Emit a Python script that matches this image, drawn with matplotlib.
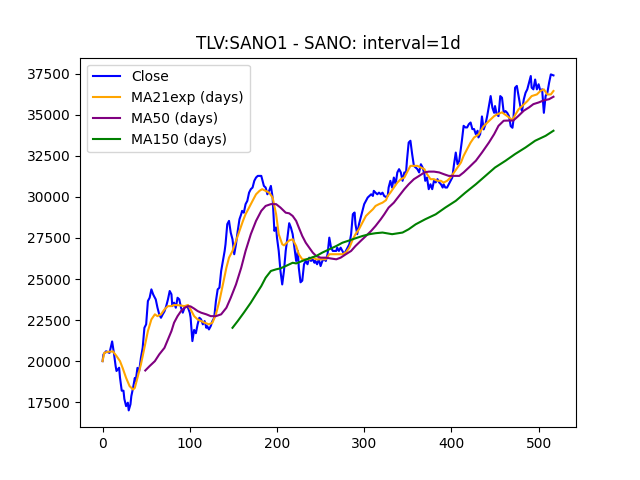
import matplotlib
matplotlib.use("Agg")
import matplotlib.pyplot as plt
from matplotlib.ticker import MultipleLocator

# Close price (day index, value)
close_x = [0, 1, 4, 8, 11, 13, 15, 16, 19, 20, 22, 24, 25, 27, 29, 30, 32, 33, 35, 37,
           38, 40, 42, 44, 46, 48, 50, 52, 54, 56, 58, 59, 61, 63, 65, 67, 69, 71, 73, 75,
           77, 79, 80, 82, 84, 86, 88, 90, 92, 94, 96, 98, 100, 101, 103, 105, 107, 109, 111, 113,
           115, 117, 119, 120, 122, 124, 126, 128, 130, 132, 134, 136, 138, 140, 141, 143, 145, 147, 149, 151,
           153, 155, 157, 159, 160, 162, 164, 166, 168, 170, 172, 174, 176, 178, 180, 182, 183, 185, 187, 189,
           191, 193, 195, 197, 199, 200, 202, 204, 206, 208, 210, 212, 214, 216, 218, 220, 222, 224, 225, 227,
           229, 231, 233, 235, 237, 239, 241, 243, 244, 246, 248, 250, 252, 254, 256, 258, 260, 262, 264, 268,
           269, 271, 273, 275, 277, 279, 281, 283, 285, 287, 289, 290, 292, 294, 296, 298, 300, 302, 304, 306,
           308, 310, 311, 313, 315, 317, 319, 321, 323, 325, 327, 328, 330, 332, 334, 336, 338, 340, 342, 344,
           346, 348, 349, 351, 353, 355, 357, 359, 361, 363, 365, 367, 369, 370, 372, 374, 376, 378, 380, 382,
           384, 386, 388, 390, 391, 393, 395, 397, 399, 401, 403, 405, 407, 409, 411, 412, 414, 416, 418, 420,
           422, 424, 426, 428, 430, 431, 433, 435, 437, 439, 441, 443, 445, 447, 449, 450, 452, 454, 456, 458,
           460, 462, 464, 466, 468, 470, 471, 473, 475, 477, 479, 481, 483, 485, 487, 489, 491, 492, 494, 496,
           498, 500, 502, 504, 506, 508, 510, 512, 514, 517]
close_y = [20000, 20400, 20600, 20500, 21200, 20500, 19700, 19400, 19600, 19000, 18200, 18200, 17700, 17260, 17470, 17000, 17370, 17870, 18370, 18980,
           18780, 19590, 19390, 20200, 20810, 22030, 22240, 23660, 23860, 24370, 24070, 23960, 23760, 23250, 22850, 22640, 22850, 23030, 23350, 23760,
           24270, 24070, 23350, 23560, 23250, 23860, 23760, 23250, 22950, 23250, 23350, 23250, 22950, 22640, 21220, 21900, 21700, 22240, 22640, 22540,
           22240, 22440, 22030, 22130, 21930, 22130, 22440, 22640, 23660, 24370, 24470, 25490, 26100, 26710, 27120, 28340, 28540, 27820, 27420, 26510,
           27120, 27930, 28640, 28950, 29150, 29040, 29560, 29760, 30260, 30470, 30570, 30980, 31180, 31280, 31280, 31280, 31080, 30670, 30570, 30160,
           30370, 30670, 29960, 27930, 28140, 27520, 26710, 25490, 24670, 25490, 26710, 27520, 28400, 28130, 27730, 26910, 26100, 26710, 25690, 24800,
           24900, 25900, 26100, 25900, 26300, 26100, 26200, 25990, 26100, 25900, 26200, 25790, 26100, 26200, 26100, 26510, 27520, 26910, 26710, 26710,
           26910, 26710, 26910, 26710, 26510, 26710, 26910, 27120, 27730, 28950, 29050, 28330, 27730, 28330, 28740, 29150, 29560, 29760, 29960, 30060,
           30160, 30060, 30370, 30260, 30160, 30260, 30160, 30260, 30050, 30000, 30060, 30570, 30980, 30570, 31180, 30770, 31490, 31690, 31490, 30980,
           31490, 31490, 32200, 33310, 33420, 32600, 31890, 31790, 31690, 31490, 31990, 31790, 31390, 30980, 31180, 30470, 30770, 30470, 30980, 30880,
           31080, 30880, 30770, 30570, 30770, 30570, 30570, 30770, 30980, 31180, 31990, 32700, 31990, 32200, 33010, 33420, 34330, 34230, 34230, 34430,
           34530, 34130, 34130, 33820, 34030, 33620, 33830, 34900, 34110, 34410, 34920, 35530, 36140, 35430, 35120, 35530, 35020, 34920, 36140, 36040,
           35120, 35230, 35120, 34920, 34310, 34210, 34620, 36650, 36760, 36140, 35530, 35230, 35940, 36340, 36550, 36950, 37360, 36650, 36550, 37150,
           36550, 36860, 36450, 36550, 35120, 36140, 36340, 36950, 37460, 37400]

# MA21 exponential
ema_x = [0, 2, 6, 12, 16, 20, 23, 27, 31, 35, 37, 40, 44, 48, 52, 56, 60, 63, 67, 71,
         75, 79, 82, 88, 94, 98, 101, 105, 109, 113, 117, 122, 126, 130, 134, 138, 142, 145, 149, 153,
         157, 161, 164, 168, 172, 176, 180, 183, 187, 191, 195, 199, 202, 206, 208, 214, 218, 222, 225, 229,
         233, 237, 241, 245, 256, 260, 275, 279, 283, 287, 290, 294, 298, 302, 306, 310, 313, 317, 321, 325,
         327, 330, 334, 338, 342, 346, 349, 353, 357, 361, 365, 369, 372, 376, 380, 384, 388, 391, 395, 399,
         403, 407, 411, 414, 418, 422, 426, 431, 437, 443, 449, 452, 458, 464, 470, 473, 477, 481, 487, 492,
         498, 502, 506, 510, 514, 517]
ema_y = [20000, 20510, 20570, 20590, 20310, 20000, 19590, 18980, 18480, 18270, 18370, 18980, 19800, 20810, 21830, 22540, 22850, 22740, 22850, 23150,
         23350, 23350, 23420, 23400, 23350, 23420, 23150, 22740, 22540, 22440, 22340, 22240, 22340, 22850, 23660, 24670, 25690, 26300, 26710, 27320,
         27930, 28540, 28950, 29350, 29760, 30160, 30370, 30470, 30370, 30260, 29960, 28950, 27730, 27120, 27050, 27350, 27420, 27010, 26510, 26200,
         26200, 26200, 26300, 26200, 26200, 26510, 26510, 26610, 26910, 27420, 27730, 28030, 28440, 28840, 29050, 29250, 29450, 29560, 29650, 29800,
         30060, 30260, 30570, 30870, 31080, 31180, 31490, 31890, 31890, 31890, 31790, 31690, 31390, 31080, 31080, 30980, 30980, 30870, 30980, 31180,
         31490, 31790, 32100, 32500, 32910, 33310, 33620, 33800, 34310, 34620, 34920, 35020, 35150, 34920, 34680, 34980, 35330, 35530, 35830, 36140,
         36240, 36450, 36550, 36240, 36240, 36450]

# MA50
ma50_x = [49, 54, 60, 65, 71, 75, 79, 82, 86, 90, 94, 98, 101, 105, 109, 113, 119, 124, 130, 136,
          142, 147, 153, 159, 164, 170, 176, 182, 187, 193, 199, 204, 210, 214, 218, 222, 225, 229, 233, 237,
          241, 245, 250, 256, 262, 268, 273, 279, 285, 290, 296, 302, 308, 313, 319, 323, 328, 334, 340, 346,
          351, 357, 363, 369, 374, 380, 386, 391, 397, 403, 409, 414, 420, 426, 428, 435, 443, 449, 454, 460,
          466, 471, 477, 483, 489, 494, 500, 506, 512, 517]
ma50_y = [19430, 19700, 20000, 20410, 20810, 21320, 21830, 22340, 22740, 23050, 23250, 23350, 23330, 23200, 23050, 22950, 22850, 22740, 22740, 22850,
          23250, 23860, 24670, 25690, 26710, 27730, 28540, 29150, 29450, 29560, 29560, 29350, 29040, 29000, 28840, 28540, 28140, 27620, 27210, 26910,
          26610, 26400, 26300, 26300, 26250, 26200, 26300, 26510, 26710, 27010, 27320, 27620, 27930, 28230, 28640, 28940, 29350, 29650, 30060, 30470,
          30770, 31080, 31280, 31490, 31540, 31540, 31490, 31390, 31280, 31280, 31280, 31490, 31790, 32100, 32200, 32700, 33310, 33820, 34330, 34640,
          34650, 34650, 34940, 35250, 35450, 35650, 35750, 35880, 35950, 36100]

# MA150
ma150_x = [149, 155, 162, 170, 176, 182, 187, 193, 199, 204, 210, 218, 222, 229, 237, 245, 252, 260, 268, 275,
           283, 290, 298, 306, 313, 321, 332, 344, 351, 359, 370, 382, 393, 405, 416, 428, 439, 450, 462, 473,
           485, 496, 508, 517]
ma150_y = [22030, 22440, 22950, 23560, 24070, 24570, 25080, 25490, 25590, 25650, 25790, 25990, 25950, 26100, 26260, 26400, 26610, 26810, 27010, 27210,
           27350, 27480, 27620, 27730, 27790, 27830, 27730, 27830, 28030, 28330, 28640, 28940, 29350, 29760, 30260, 30770, 31280, 31790, 32200, 32610,
           33010, 33420, 33720, 34030]

fig, ax = plt.subplots(figsize=(6.4, 4.8), dpi=100)
ax.plot(close_x, close_y, color='blue', label='Close')
ax.plot(ema_x, ema_y, color='orange', label='MA21exp (days)')
ax.plot(ma50_x, ma50_y, color='purple', label='MA50 (days)')
ax.plot(ma150_x, ma150_y, color='green', label='MA150 (days)')

ax.yaxis.set_major_locator(MultipleLocator(2500))
ax.set_title('TLV:SANO1 - SANO: interval=1d')
ax.legend(loc='upper left')

plt.savefig("out.png", dpi=100)
